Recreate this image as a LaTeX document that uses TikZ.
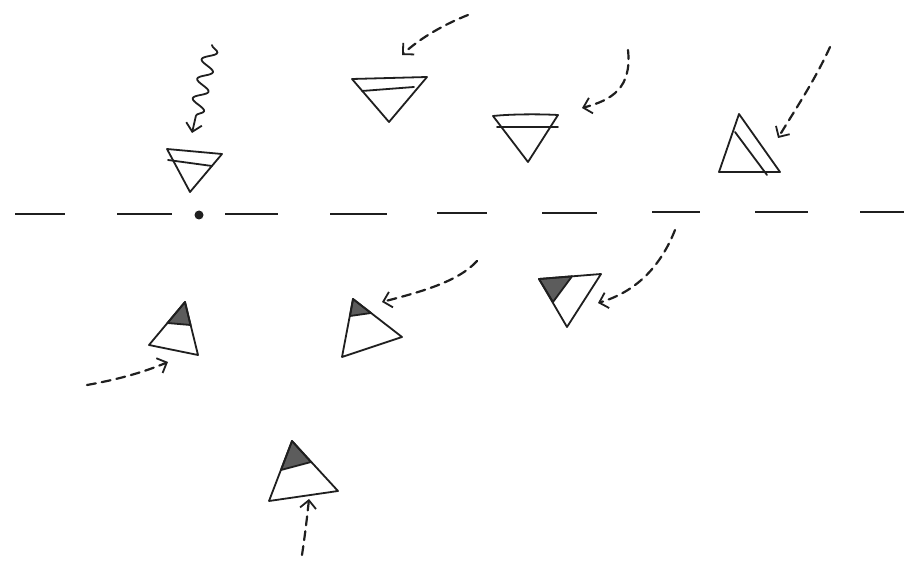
\documentclass[tikz,border=0pt]{standalone}
\usetikzlibrary{arrows.meta,decorations.pathmorphing}
\definecolor{ink}{gray}{0.12}
\definecolor{shade}{gray}{0.36}
\tikzset{
  tip/.style={-{Straight Barb[length=8pt,width=16pt,line width=1.8pt]}},
  pen/.style={draw=ink,line width=1.8pt,line cap=round,line join=round},
  dashpen/.style={draw=ink,line width=2.2pt,dash pattern=on 9pt off 6pt,line cap=round,tip},
  axis/.style={draw=ink,line width=1.6pt},
  shd/.style={fill=shade,draw=ink,line width=1.8pt,line join=round},
}
\begin{document}
\begin{tikzpicture}[x=1pt,y=-1pt]
\useasboundingbox (0,0) rectangle (904,561);
\fill[white] (0,0) rectangle (904,561);
% axis dashes
\foreach \a/\b/\y in {15/65/214,117/172/214,225/278/214,330/387/214,437/487/213,542/597/213,652/700/212,755/808/212,860/904/212}
  \draw[axis] (\a,\y) -- (\b,\y);
\fill[ink] (199,215) circle (4.5pt);

% triangle 1
\coordinate (t1a) at (167,149); \coordinate (t1b) at (222,154); \coordinate (t1c) at (190,192);
\draw[pen] (t1a) -- (t1b) -- (t1c) -- cycle;
\draw[pen] (168,160) -- (212,166);
% triangle 2
\coordinate (t2a) at (352,79); \coordinate (t2b) at (427,77); \coordinate (t2c) at (389,122);
\draw[pen] (t2a) -- (t2b) -- (t2c) -- cycle;
\draw[pen] (362,91) -- (414,87);
% triangle 3
\coordinate (t3a) at (493,116); \coordinate (t3b) at (558,115); \coordinate (t3c) at (528,162);
\draw[pen] (t3a) .. controls (512,114) and (540,114) .. (t3b) -- (t3c) -- cycle;
\draw[pen] (497,127) -- (558,127);
% triangle 4
\coordinate (t4a) at (739,114); \coordinate (t4b) at (719,172); \coordinate (t4c) at (780,172);
\draw[pen] (t4a) -- (t4b) -- (t4c) -- cycle;
\draw[pen] (735,132) -- (767,175);
% triangle 5
\coordinate (t5a) at (185,302); \coordinate (t5b) at (149,345); \coordinate (t5c) at (198,355);
\filldraw[shd] (t5a) -- (167.5,323) -- (190.5,325) -- cycle;
\draw[pen] (t5a) -- (t5b) -- (t5c) -- cycle;
% triangle 6
\coordinate (t6a) at (353,299); \coordinate (t6b) at (342,357); \coordinate (t6c) at (402,337);
\filldraw[shd] (t6a) -- (350,316) -- (371,313) -- cycle;
\draw[pen] (t6a) -- (t6b) -- (t6c) -- cycle;
% triangle 7
\coordinate (t7a) at (539,279); \coordinate (t7b) at (601,274); \coordinate (t7c) at (567,327);
\filldraw[shd] (t7a) -- (572,276.3) -- (553,302) -- cycle;
\draw[pen] (t7a) -- (t7b) -- (t7c) -- cycle;
% triangle 8
\coordinate (t8a) at (292,441); \coordinate (t8b) at (269,501); \coordinate (t8c) at (338,491);
\filldraw[shd] (t8a) -- (281,470) -- (311,462) -- cycle;
\draw[pen] (t8a) -- (t8b) -- (t8c) -- cycle;

% arrows
\coordinate (w0) at (212,45); \coordinate (w1) at (192,133);
\draw[pen,tip,decorate,decoration={snake,amplitude=7pt,segment length=20pt,post length=12pt}] (w0) -- (w1);
\coordinate (a2s) at (468,15); \coordinate (a2e) at (402,55);
\draw[dashpen] (a2s) .. controls (445,24) and (420,38) .. (a2e);
\coordinate (a3s) at (628,50); \coordinate (a3e) at (582,108);
\draw[dashpen] (a3s) .. controls (632,88) and (612,100) .. (a3e);
\coordinate (a4s) at (830,47); \coordinate (a4e) at (778,138);
\draw[dashpen] (a4s) .. controls (815,80) and (795,110) .. (a4e);
\coordinate (a5s) at (87,385); \coordinate (a5e) at (168,362);
\draw[dashpen] (a5s) .. controls (115,380) and (142,373) .. (a5e);
\coordinate (a6s) at (477,261); \coordinate (a6e) at (382,302);
\draw[dashpen] (a6s) .. controls (458,282) and (420,292) .. (a6e);
\coordinate (a7s) at (675,230); \coordinate (a7e) at (598,303);
\draw[dashpen] (a7s) .. controls (660,268) and (635,292) .. (a7e);
\coordinate (a8s) at (302,555); \coordinate (a8e) at (309,499);
\draw[dashpen] (a8s) .. controls (305,535) and (307,518) .. (a8e);
\end{tikzpicture}
\end{document}
